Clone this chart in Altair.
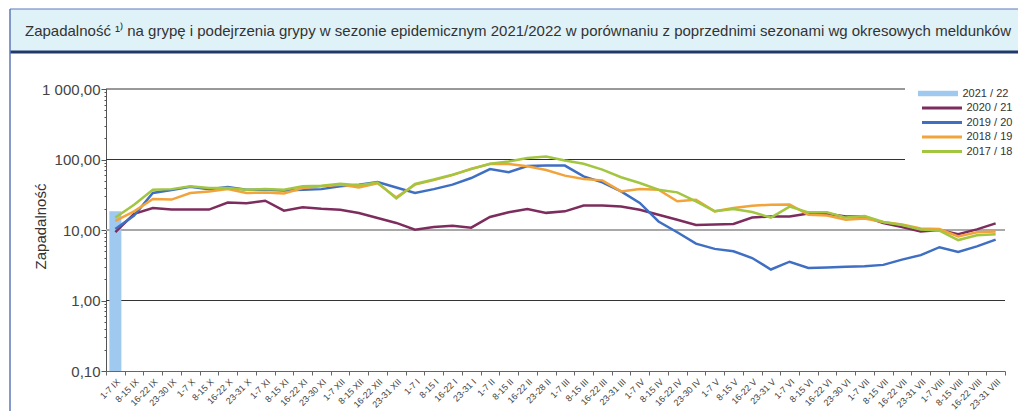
import altair as alt
import pandas as pd

weeks = [
    "1-7 IX", "8-15 IX", "16-22 IX", "23-30 IX",
    "1-7 X", "8-15 X", "16-22 X", "23-31 X",
    "1-7 XI", "8-15 XI", "16-22 XI", "23-30 XI",
    "1-7 XII", "8-15 XII", "16-22 XII", "23-31 XII",
    "1-7 I", "8-15 I", "16-22 I", "23-31 I",
    "1-7 II", "8-15 II", "16-22 II", "23-28 II",
    "1-7 III", "8-15 III", "16-22 III", "23-31 III",
    "1-7 IV", "8-15 IV", "16-22 IV", "23-30 IV",
    "1-7 V", "8-15 V", "16-22 V", "23-31 V",
    "1-7 VI", "8-15 VI", "16-22 VI", "23-30 VI",
    "1-7 VII", "8-15 VII", "16-22 VII", "23-31 VII",
    "1-7 VIII", "8-15 VIII", "16-22 VIII", "23-31 VIII",
]

s2021_22 = [18.4]
s2020_21 = [9.3, 17, 20.5, 19.5, 19.5, 19.5, 24.5, 24, 26, 18.8, 21, 20,
            19.4, 17.4, 14.8, 12.6, 10.1, 11, 11.5, 10.8, 15.3, 17.8, 19.9, 17.5,
            18.4, 22.3, 22.3, 21.6, 19.4, 16.5, 14, 11.8, 12, 12.2, 15, 15.6,
            15.6, 17.2, 17, 15.5, 15.5, 12.5, 11, 9.5, 10, 8.7, 10.2, 12.4]
s2019_20 = [10.3, 16, 33.5, 37, 41, 38, 40.7, 37.3, 37.3, 36.4, 37.3, 38,
            41.6, 44, 48, 40, 33.5, 38, 44, 54.6, 73, 66, 81, 82,
            82, 57.5, 47.3, 35.3, 24.2, 13.2, 9.3, 6.4, 5.4, 5.0, 4.0, 2.75,
            3.55, 2.9, 2.95, 3.0, 3.05, 3.2, 3.8, 4.4, 5.7, 4.9, 5.85, 7.3]
s2018_19 = [13.5, 18.4, 27.5, 27, 33.5, 35.3, 38, 33.5, 34, 33, 39.4, 41.6,
            44, 40, 46, 29, 44, 51, 60, 74, 86, 86, 80, 71,
            59, 53, 50.6, 35.3, 38.2, 37.3, 25.5, 26.9, 18.4, 20.5, 22.1, 22.8,
            23, 16.5, 16, 14, 14.5, 13, 12, 10.5, 10.3, 8.1, 9.3, 9.5]
s2017_18 = [15, 22.8, 37.3, 38, 41.6, 39.4, 39.4, 37.3, 38, 37.3, 41.6, 42.5,
            45.4, 43, 47, 28, 45, 52, 61, 73, 87, 94, 105, 110,
            97, 87, 72, 56, 46.4, 37.3, 34.2, 25.5, 18.4, 19.9, 18, 15,
            21.5, 17.8, 17.8, 15, 15.8, 13, 11.8, 10.2, 9.8, 7.2, 8.4, 8.7]

bar_name = "2021 / 22"
bar_color = "#9fc9ee"
series_names = ["2020 / 21", "2019 / 20", "2018 / 19", "2017 / 18"]
series_colors = ["#7d2d5d", "#3f6fc2", "#f2a33a", "#a2c640"]
series_values = [s2020_21, s2019_20, s2018_19, s2017_18]

major_vals = [1000, 100, 10, 1, 0.1]
major_labels = ["1 000,00", "100,00", "10,00", "1,00", "0,10"]
tick_vals = [m * 10 ** e for e in range(-1, 3) for m in range(1, 10)] + [1000]

grid_vals = [1000, 100, 10, 1]
grid_colors = ["#333333", "#333333", "#a8a8a8", "#333333"]
grid_widths = [1, 1, 2, 1]

title_text = ("Zapadalność ¹⁾ na grypę i podejrzenia grypy w sezonie epidemicznym 2021/2022 "
              "w porównaniu z poprzednimi sezonami wg okresowych meldunków")
y_title = "Zapadalność"

rows = []
for name, vals in zip(series_names, series_values):
    for w, v in zip(weeks, vals):
        rows.append({"week": w, "season": name, "value": v})
lines_df = pd.DataFrame(rows)
bar_df = pd.DataFrame({"week": weeks[:len(s2021_22)], "season": [bar_name] * len(s2021_22),
                       "value": s2021_22})
grid_df = pd.DataFrame({"value": grid_vals, "gcolor": grid_colors, "gw": grid_widths})

FONT = "Liberation Sans"

label_expr = " : ".join(
    f"datum.value == {v} ? '{l}'" for v, l in zip(major_vals, major_labels)
) + " : ''"
major_test = "indexof([" + ",".join(str(v) for v in major_vals) + "], datum.value) >= 0"

x_axis = alt.Axis(title=None, labelAngle=-45, labelFontSize=9, labelFont=FONT,
                  labelColor="#444444", tickBand="extent", tickSize=4, tickColor="#666666",
                  domainColor="#666666", labelPadding=2, grid=False, labelOverlap=False)
y_axis = alt.Axis(values=tick_vals, labelExpr=label_expr, grid=False,
                  tickSize={"condition": {"test": major_test, "value": 5}, "value": 2},
                  tickColor="#555555", domainColor="#555555", labelFontSize=15,
                  labelFont=FONT, labelColor="#444444", labelPadding=1,
                  title=y_title, titleFontSize=15, titleFont=FONT, titleFontWeight="normal",
                  titleColor="#333333", titleX=-66, titleY=137, titleBaseline="middle",
                  titleAngle=270)

x_enc = alt.X("week:N", sort=weeks,
              scale=alt.Scale(domain=weeks, paddingInner=0, paddingOuter=0), axis=x_axis)
y_scale = alt.Scale(type="log", domain=[0.1, 1000], nice=False)
y_enc = alt.Y("value:Q", scale=y_scale, axis=y_axis)

grid = alt.Chart(grid_df).mark_rule().encode(
    y=y_enc,
    color=alt.Color("gcolor:N", scale=None),
    strokeWidth=alt.StrokeWidth("gw:Q", scale=None),
)

bars = alt.Chart(bar_df).mark_bar(size=12).encode(
    x=x_enc,
    y=y_enc,
    y2=alt.datum(0.1),
    fill=alt.Fill("season:N", scale=alt.Scale(domain=[bar_name], range=[bar_color]),
                  legend=alt.Legend(title=None, orient="none", legendX=799, legendY=-3,
                                    symbolType="M-4,-0.55H4V0.55H-4Z", symbolSize=100,
                                    symbolStrokeWidth=0, symbolOffset=25.5, labelOffset=19,
                                    labelFontSize=11, labelFont=FONT,
                                    labelColor="#333333", fillColor="white", padding=2)),
)

lines = alt.Chart(lines_df).mark_line(strokeWidth=2.5).encode(
    x=x_enc,
    y=y_enc,
    color=alt.Color("season:N", scale=alt.Scale(domain=series_names, range=series_colors),
                    legend=alt.Legend(title=None, orient="none", legendX=799, legendY=6.5,
                                      symbolType="M-4,0H4", symbolSize=100,
                                      symbolStrokeWidth=3, symbolOffset=24.5, labelOffset=18,
                                      labelFontSize=11, labelFont=FONT,
                                      labelColor="#333333", fillColor="white", padding=6,
                                      rowPadding=1.5)),
)

deco_df = pd.DataFrame({"k": [0]})
deco = alt.Chart(deco_df)
box = deco.mark_rect(fill="#dff2f8").encode(
    x=alt.value(-96), x2=alt.value(912), y=alt.value(-80), y2=alt.value(-37))
top_line = deco.mark_rule(color="#5b78b8", strokeWidth=1).encode(
    x=alt.value(-96), x2=alt.value(912), y=alt.value(-80))
bottom_line = deco.mark_rule(color="#22386b", strokeWidth=3).encode(
    x=alt.value(-96), x2=alt.value(912), y=alt.value(-37))
left_line = deco.mark_rule(color="#5b78b8", strokeWidth=1.5).encode(
    x=alt.value(-96), y=alt.value(-80), y2=alt.value(330))
title = deco.mark_text(text=title_text, font=FONT, fontSize=15, color="#333333",
                       align="center", baseline="middle").encode(
    x=alt.value(412), y=alt.value(-58))

chart = alt.layer(grid, bars, lines, box, top_line, bottom_line, left_line, title).properties(
    width=899, height=282,
    autosize=alt.AutoSizeParams(type="none"),
    padding={"left": 98, "top": 81, "right": 13, "bottom": 40},
    background="white",
).configure_view(strokeWidth=0)

chart.save("out.html", embed_options={"renderer": "svg", "actions": False})
